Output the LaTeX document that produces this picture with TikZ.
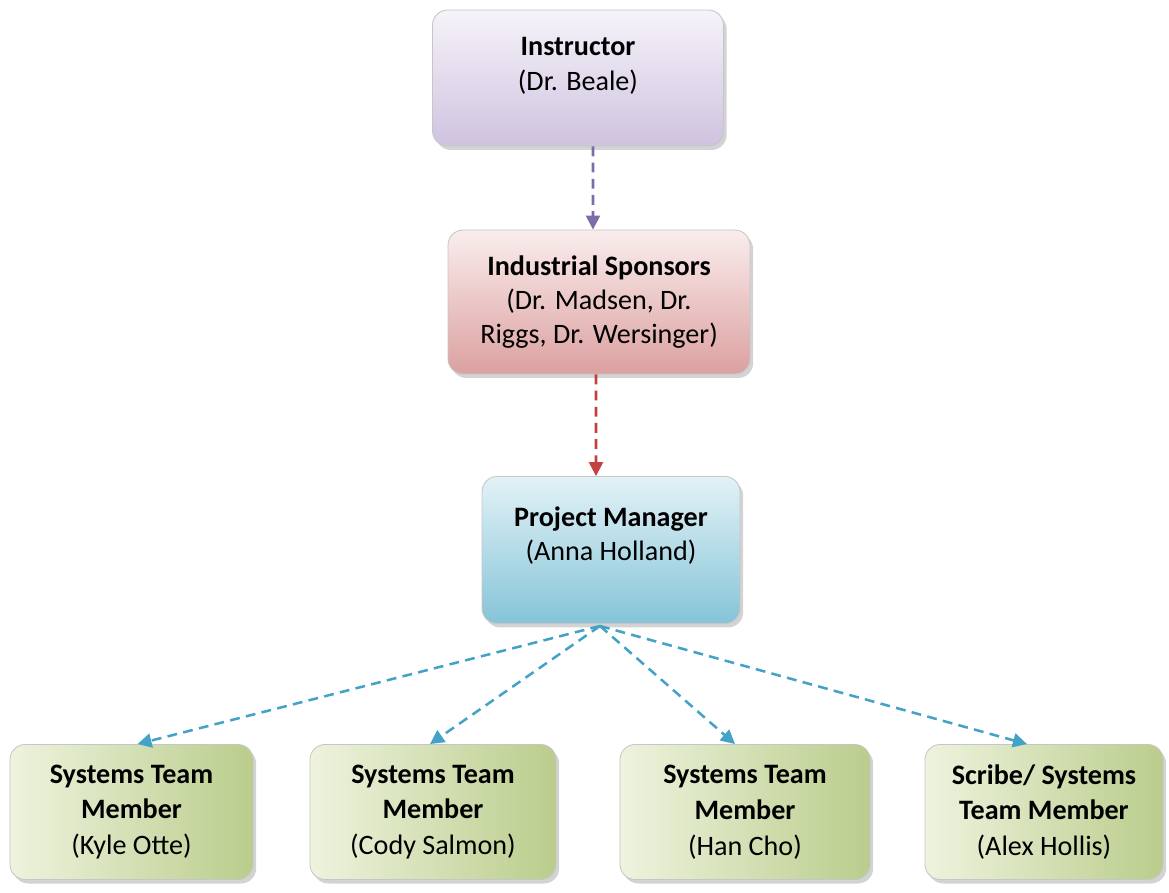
\documentclass[tikz,border=0pt]{standalone}
\usepackage{fontspec}
\setmainfont{Carlito}
\usetikzlibrary{shadows,arrows.meta}
\definecolor{instlo}{HTML}{CFC3E0}
\definecolor{insthi}{HTML}{F6F3F9}
\definecolor{sponlo}{HTML}{DCA0A0}
\definecolor{sponhi}{HTML}{FAEDED}
\definecolor{pmlo}{HTML}{86C4D8}
\definecolor{pmhi}{HTML}{E2F2F7}
\definecolor{memlo}{HTML}{BACD8C}
\definecolor{memhi}{HTML}{EEF3DE}
\definecolor{linepurple}{HTML}{7E6CAA}
\definecolor{linered}{HTML}{C2423F}
\definecolor{lineblue}{HTML}{43A2C6}
\tikzset{
  box/.style={rounded corners=0.38cm, draw=gray!45, line width=0.6pt,
    align=center, inner sep=0pt,
    font=\fontsize{20}{24.5}\selectfont,
    drop shadow={opacity=0.35, shadow xshift=0.08cm, shadow yshift=-0.1cm}},
  memberbox/.style={box, minimum height=3.375cm,
    left color=memhi, right color=memlo,
    font=\fontsize{20}{25.5}\selectfont},
  link/.style={dashed, dash pattern=on 7pt off 4.5pt, line width=1.8pt,
    -{Triangle[length=10pt,width=10pt]}}
}
\begin{document}
\begin{tikzpicture}
    \useasboundingbox (0,0) rectangle (29.225,-22.325);
    \node[box, minimum width=7.275cm, minimum height=3.4cm,
      top color=insthi, bottom color=instlo] (inst) at(14.45,-1.95)
      {\textbf{Instructor}\\(Dr. Beale)\\[-0.15cm]};
    \node[box, minimum width=7.55cm, minimum height=3.6cm,
      top color=sponhi, bottom color=sponlo] (spon) at(14.975,-7.55)
      {\textbf{Industrial Sponsors}\\(Dr. Madsen, Dr.\\Riggs, Dr. Wersinger)};
    \node[box, minimum width=6.45cm, minimum height=3.675cm,
      top color=pmhi, bottom color=pmlo] (pm) at(15.275,-13.75)
      {\textbf{Project Manager}\\(Anna Holland)\\[-0.05cm]};
    \node[memberbox, minimum width=6.075cm] (m1) at(3.2875,-20.3)
      {\textbf{Systems Team}\\\textbf{Member}\\(Kyle Otte)};
    \node[memberbox, minimum width=6.15cm] (m2) at(10.825,-20.3)
      {\textbf{Systems Team}\\\textbf{Member}\\(Cody Salmon)};
    \node[memberbox, minimum width=6.25cm] (m3) at(18.625,-20.3)
      {\textbf{Systems Team}\\\textbf{Member}\\(Han Cho)};
    \node[memberbox, minimum width=5.95cm] (m4) at(26.1,-20.3)
      {\textbf{Scribe/ Systems}\\\textbf{Team Member}\\(Alex Hollis)};
    \coordinate (pmfoot) at(15.0,-15.65);
    \draw[link, linepurple] ([xshift=0.375cm]inst.south) -- ([xshift=-0.15cm]spon.north);
    \draw[link, linered] ([xshift=-0.075cm]spon.south) -- ([xshift=-0.375cm]pm.north);
    \draw[link, lineblue] (pmfoot) -- ([xshift=0.15cm]m1.north);
    \draw[link, lineblue] (pmfoot) -- ([xshift=-0.075cm]m2.north);
    \draw[link, lineblue] (pmfoot) -- ([xshift=-0.25cm]m3.north);
    \draw[link, lineblue] (pmfoot) -- ([xshift=-0.425cm]m4.north);
  \end{tikzpicture}
\end{document}
